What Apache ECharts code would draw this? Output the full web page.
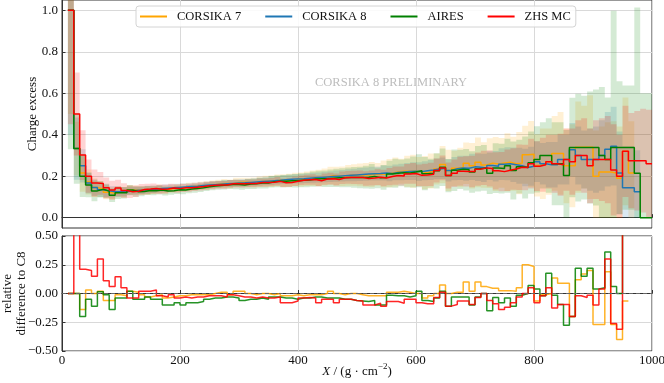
<!DOCTYPE html>
<html>
<head>
<meta charset="utf-8">
<script src="https://cdn.jsdelivr.net/npm/echarts@6/dist/echarts.min.js"></script>
<style>
  html, body { margin: 0; padding: 0; background: #fff; }
  #chart { width: 664px; height: 383px; }
</style>
</head>
<body>
<div id="chart"></div>
<script>
// bins of 10 g/cm^2, left edges 10 ... 990
const binStart = 10
const binWidth = 10

const c7 = [
  1.0, 0.333, 0.215, 0.172, 0.145, 0.138, 0.122, 0.118, 0.124, 0.123,
  0.133, 0.133, 0.132, 0.131, 0.134, 0.139, 0.136, 0.14, 0.143, 0.145,
  0.149, 0.151, 0.154, 0.155, 0.159, 0.163, 0.165, 0.163, 0.17, 0.171,
  0.17, 0.17, 0.174, 0.176, 0.176, 0.18, 0.179, 0.181, 0.185, 0.184,
  0.188, 0.19, 0.192, 0.196, 0.202, 0.2, 0.2, 0.204, 0.206, 0.206,
  0.206, 0.208, 0.209, 0.211, 0.215, 0.22, 0.224, 0.224, 0.224, 0.222,
  0.217, 0.225, 0.235, 0.256, 0.228, 0.238, 0.242, 0.262, 0.25, 0.267,
  0.254, 0.263, 0.259, 0.264, 0.267, 0.26, 0.263, 0.303, 0.306, 0.252,
  0.26, 0.27, 0.31, 0.31, 0.25, 0.25, 0.34, 0.34, 0.34, 0.2,
  0.22, 0.22, 0.215, 0.19, 0.32, 0.215, null, null, null
]
const c8 = [
  1.0, 0.333, 0.25, 0.167, 0.145, 0.135, 0.13, 0.125, 0.125, 0.125,
  0.13, 0.132, 0.133, 0.135, 0.137, 0.14, 0.142, 0.144, 0.146, 0.148,
  0.15, 0.152, 0.155, 0.157, 0.159, 0.161, 0.163, 0.165, 0.167, 0.168,
  0.17, 0.172, 0.174, 0.176, 0.178, 0.18, 0.183, 0.185, 0.187, 0.188,
  0.19, 0.192, 0.194, 0.196, 0.198, 0.2, 0.202, 0.204, 0.206, 0.208,
  0.21, 0.212, 0.213, 0.215, 0.213, 0.218, 0.22, 0.222, 0.224, 0.222,
  0.226, 0.23, 0.235, 0.238, 0.228, 0.236, 0.24, 0.238, 0.245, 0.243,
  0.24, 0.252, 0.248, 0.258, 0.26, 0.255, 0.25, 0.242, 0.248, 0.27,
  0.26, 0.255, 0.255, 0.28, 0.28, 0.327, 0.3, 0.28, 0.28, 0.28,
  0.3, 0.33, 0.345, 0.215, 0.144, 0.144, 0.125, null, null
]
const aires = [
  1.0, 0.333, 0.2, 0.158, 0.129, 0.137, 0.128, 0.108, 0.12, 0.12,
  0.133, 0.125, 0.126, 0.131, 0.13, 0.133, 0.128, 0.13, 0.134, 0.133,
  0.138, 0.14, 0.144, 0.149, 0.153, 0.155, 0.158, 0.16, 0.16, 0.158,
  0.162, 0.163, 0.167, 0.167, 0.173, 0.175, 0.176, 0.178, 0.178, 0.18,
  0.182, 0.186, 0.188, 0.188, 0.19, 0.192, 0.192, 0.194, 0.194, 0.194,
  0.195, 0.199, 0.192, 0.194, 0.21, 0.214, 0.216, 0.215, 0.22, 0.226,
  0.212, 0.214, 0.226, 0.243, 0.203, 0.229, 0.233, 0.231, 0.22, 0.236,
  0.24, 0.214, 0.239, 0.237, 0.25, 0.227, 0.246, 0.242, 0.265, 0.281,
  0.3, 0.3, 0.26, 0.26, 0.203, 0.338, 0.338, 0.338, 0.338, 0.338,
  0.3, 0.28, 0.338, 0.338, 0.338, 0.338, 0.214, 0.0, 0.0
]
const zhs = [
  1.0, 0.5, 0.302, 0.2, 0.167, 0.165, 0.144, 0.133, 0.143, 0.131,
  0.125, 0.127, 0.136, 0.138, 0.141, 0.137, 0.138, 0.143, 0.14, 0.144,
  0.144, 0.147, 0.15, 0.154, 0.156, 0.158, 0.158, 0.163, 0.164, 0.163,
  0.165, 0.165, 0.169, 0.169, 0.171, 0.175, 0.168, 0.17, 0.175, 0.18,
  0.183, 0.184, 0.178, 0.186, 0.188, 0.184, 0.192, 0.194, 0.194, 0.194,
  0.189, 0.191, 0.195, 0.191, 0.198, 0.203, 0.201, 0.211, 0.213, 0.204,
  0.206, 0.209, 0.227, 0.24, 0.203, 0.214, 0.224, 0.223, 0.222, 0.234,
  0.24, 0.237, 0.226, 0.222, 0.229, 0.235, 0.243, 0.242, 0.26, 0.248,
  0.255, 0.27, 0.26, 0.255, 0.28, 0.27, 0.3, 0.3, 0.25, 0.28,
  0.28, 0.28, 0.23, 0.2, 0.32, 0.275, 0.275, 0.275, 0.26
]

// statistical uncertainty (half width of the shaded bands)
const errC7 = [
  0.5, 0.13, 0.09, 0.06, 0.045, 0.038, 0.033, 0.03, 0.027, 0.025,
  0.023, 0.022, 0.021, 0.02, 0.02, 0.02, 0.019, 0.019, 0.019, 0.019,
  0.019, 0.019, 0.019, 0.02, 0.02, 0.02, 0.021, 0.021, 0.022, 0.022,
  0.023, 0.024, 0.025, 0.026, 0.027, 0.028, 0.03, 0.031, 0.032, 0.034,
  0.035, 0.037, 0.039, 0.041, 0.043, 0.045, 0.047, 0.05, 0.052, 0.055,
  0.057, 0.06, 0.055, 0.065, 0.068, 0.07, 0.06, 0.075, 0.08, 0.07,
  0.08, 0.085, 0.075, 0.09, 0.1, 0.085, 0.095, 0.1, 0.11, 0.12,
  0.11, 0.12, 0.13, 0.12, 0.14, 0.13, 0.15, 0.14, 0.16, 0.15,
  0.17, 0.16, 0.18, 0.2, 0.18, 0.2, 0.22, 0.2, 0.25, 0.22,
  0.22, 0.24, 0.25, 0.25, 0.26, 0.25, 0, 0, 0
]
const errC8 = [
  0.6, 0.15, 0.08, 0.05, 0.04, 0.035, 0.03, 0.028, 0.025, 0.022,
  0.02, 0.02, 0.019, 0.019, 0.018, 0.018, 0.018, 0.017, 0.017, 0.017,
  0.016, 0.016, 0.016, 0.016, 0.016, 0.017, 0.017, 0.017, 0.017, 0.018,
  0.018, 0.018, 0.019, 0.019, 0.02, 0.02, 0.021, 0.021, 0.022, 0.022,
  0.023, 0.024, 0.024, 0.025, 0.026, 0.027, 0.028, 0.029, 0.03, 0.031,
  0.032, 0.033, 0.034, 0.036, 0.037, 0.038, 0.04, 0.041, 0.043, 0.045,
  0.046, 0.048, 0.05, 0.052, 0.054, 0.056, 0.058, 0.06, 0.063, 0.066,
  0.068, 0.071, 0.074, 0.077, 0.08, 0.083, 0.087, 0.09, 0.094, 0.098,
  0.1, 0.11, 0.11, 0.12, 0.12, 0.13, 0.14, 0.14, 0.15, 0.16,
  0.17, 0.18, 0.19, 0.2, 0.2, 0.2, 0.2, 0, 0
]
const errAires = [
  0.67, 0.17, 0.1, 0.06, 0.05, 0.04, 0.035, 0.032, 0.03, 0.028,
  0.025, 0.024, 0.023, 0.022, 0.022, 0.021, 0.021, 0.02, 0.02, 0.02,
  0.02, 0.02, 0.02, 0.021, 0.021, 0.021, 0.022, 0.022, 0.023, 0.023,
  0.024, 0.025, 0.026, 0.027, 0.028, 0.029, 0.03, 0.031, 0.033, 0.034,
  0.035, 0.037, 0.038, 0.04, 0.042, 0.044, 0.046, 0.048, 0.05, 0.052,
  0.055, 0.06, 0.05, 0.06, 0.065, 0.07, 0.065, 0.07, 0.075, 0.08,
  0.08, 0.07, 0.085, 0.09, 0.08, 0.1, 0.095, 0.1, 0.1, 0.11,
  0.11, 0.1, 0.12, 0.12, 0.13, 0.14, 0.13, 0.15, 0.15, 0.16,
  0.16, 0.18, 0.2, 0.2, 0.22, 0.24, 0.26, 0.25, 0.27, 0.28,
  0.33, 0.3, 0.66, 0.32, 0.3, 0.3, 0.8, 0.6, 0.6
]
const errZhs = [
  0.55, 0.2, 0.12, 0.08, 0.065, 0.055, 0.05, 0.045, 0.04, 0.035,
  0.03, 0.028, 0.026, 0.025, 0.024, 0.023, 0.022, 0.021, 0.02, 0.02,
  0.019, 0.019, 0.019, 0.019, 0.019, 0.019, 0.019, 0.019, 0.019, 0.019,
  0.019, 0.019, 0.02, 0.02, 0.02, 0.021, 0.021, 0.022, 0.022, 0.023,
  0.024, 0.025, 0.026, 0.027, 0.028, 0.029, 0.03, 0.031, 0.032, 0.033,
  0.035, 0.036, 0.038, 0.04, 0.042, 0.044, 0.046, 0.048, 0.05, 0.052,
  0.054, 0.056, 0.058, 0.06, 0.063, 0.066, 0.07, 0.073, 0.076, 0.08,
  0.083, 0.087, 0.09, 0.095, 0.1, 0.1, 0.11, 0.11, 0.12, 0.12,
  0.13, 0.13, 0.14, 0.15, 0.15, 0.16, 0.17, 0.18, 0.18, 0.19,
  0.2, 0.21, 0.22, 0.2, 0.22, 0.23, 0.24, 0.25, 0.26
]

// relative difference to CORSIKA 8, bins 10 ... 950
const relC7 = [
  0, 0, -0.14, 0.03, 0.0, 0.02, -0.06, -0.06, -0.01, -0.02,
  0.02, 0.01, -0.01, -0.03, -0.02, -0.01, -0.04, -0.03, -0.02, -0.02,
  -0.01, -0.01, -0.01, -0.01, 0.0, 0.01, 0.01, -0.01, 0.02, 0.02,
  0.0, -0.01, 0.0, 0.0, -0.01, 0.0, -0.02, -0.02, -0.01, -0.02,
  -0.01, -0.01, -0.01, 0.0, 0.02, 0.0, -0.01, 0.0, 0.0, -0.01,
  -0.02, -0.02, -0.02, -0.02, 0.01, 0.01, 0.02, 0.01, 0.0, 0.0,
  -0.04, -0.02, 0.0, 0.075, 0.0, 0.01, 0.01, 0.1, 0.02, 0.1,
  0.06, 0.045, 0.045, 0.025, 0.025, 0.02, 0.05, 0.25, 0.235, -0.065,
  -0.01, 0.0, 0.135, 0.09, 0.09, -0.2, 0.12, 0.17, 0.2, -0.27,
  -0.27, 0.19, -0.27, -0.4, -0.065
]
const relAires = [
  0, 0, -0.2, -0.05, -0.11, 0.015, -0.01, -0.14, -0.04, -0.04,
  0.02, -0.05, -0.05, -0.03, -0.05, -0.05, -0.1, -0.1, -0.08, -0.1,
  -0.08, -0.08, -0.07, -0.05, -0.04, -0.04, -0.03, -0.03, -0.04, -0.06,
  -0.05, -0.05, -0.04, -0.05, -0.03, -0.03, -0.04, -0.04, -0.05, -0.04,
  -0.04, -0.03, -0.03, -0.04, -0.04, -0.04, -0.05, -0.05, -0.06, -0.065,
  -0.07, -0.06, -0.1, -0.1, -0.015, -0.02, -0.02, -0.03, -0.02, 0.02,
  -0.06, -0.07, -0.04, 0.02, -0.11, -0.03, -0.03, -0.03, -0.1, -0.03,
  0.0, -0.15, -0.035, -0.08, -0.04, -0.11, -0.015, 0.0, 0.07, 0.04,
  -0.02, 0.176, -0.015, -0.095, -0.275, -0.2, 0.22, 0.15, 0.22, 0.04,
  0.05, 0.36, 0.06, 0.0, 0.6
]
const relZhs = [
  0, 0.6, 0.21, 0.2, 0.15, 0.3, 0.11, 0.06, 0.145, 0.05,
  -0.04, -0.04, 0.02, 0.02, 0.03, -0.02, -0.03, -0.01, -0.04, -0.03,
  -0.04, -0.03, -0.03, -0.02, -0.02, -0.02, -0.03, -0.01, -0.02, -0.03,
  -0.03, -0.04, -0.03, -0.04, -0.04, -0.03, -0.08, -0.08, -0.065, -0.04,
  -0.035, -0.04, -0.08, -0.05, -0.05, -0.08, -0.05, -0.05, -0.06, -0.065,
  -0.1, -0.1, -0.085, -0.11, -0.07, -0.07, -0.085, -0.05, -0.05, -0.08,
  -0.09, -0.09, -0.035, 0.01, -0.11, -0.095, -0.065, -0.065, -0.095, -0.035,
  0.0, -0.06, -0.09, -0.14, -0.12, -0.08, -0.03, 0.0, 0.05, -0.08,
  -0.02, 0.05, -0.125, -0.095, -0.095, -0.2, -0.02, -0.035, -0.015, -0.1,
  0.04, 0.3, -0.26, -0.31, 0.6
]

const topTicks = [0, 0.2, 0.4, 0.6, 0.8, 1.0]

const colors = {
  c7: '#ffa500',
  c8: '#1f77b4',
  aires: '#008000',
  zhs: '#ff0000'
}
const font = 'Liberation Serif'

// histogram outline: value held over the bin, closed at the right edge
function stairs(vals) {
  const pts = []
  let last = -1
  vals.forEach((v, i) => {
    if (v === null) return
    pts.push([binStart + i * binWidth, v])
    last = i
  })
  pts.push([binStart + (last + 1) * binWidth, vals[last]])
  return pts
}

function lineSeries(name, vals, color, grid, opacity) {
  return {
    name: name,
    type: 'line',
    xAxisIndex: grid,
    yAxisIndex: grid,
    step: 'end',
    showSymbol: false,
    symbol: 'none',
    data: stairs(vals),
    lineStyle: { color: color, width: 1.5, opacity: opacity },
    itemStyle: { color: color },
    z: 3
  }
}

// shaded uncertainty band as one stepped polygon
function bandSeries(name, vals, errs, color) {
  return {
    name: name,
    type: 'custom',
    xAxisIndex: 0,
    yAxisIndex: 0,
    silent: true,
    clip: true,
    z: 1,
    data: [[0, 0]],
    renderItem(params, api) {
      const top = []
      const bot = []
      vals.forEach((v, i) => {
        if (v === null) return
        const x0 = binStart + i * binWidth
        const x1 = x0 + binWidth
        const hi = v + errs[i]
        const lo = Math.max(0, v - errs[i])
        top.push(api.coord([x0, hi]), api.coord([x1, hi]))
        bot.push(api.coord([x0, lo]), api.coord([x1, lo]))
      })
      return {
        type: 'polygon',
        shape: { points: top.concat(bot.reverse()) },
        style: { fill: color, opacity: 0.17 }
      }
    }
  }
}

const minus = s => s.replace('-', '\u2212')
const labelStyle = { fontFamily: font, fontSize: 13, color: '#111' }
const splitStyle = { show: true, lineStyle: { color: '#d9d9d9', width: 1 } }

const chart = echarts.init(document.getElementById('chart'))
chart.setOption({
  animation: false,
  backgroundColor: '#fff',
  grid: [
    { left: 62, right: 12, top: 0, height: 228, outerBoundsMode: 'none', show: true, borderColor: '#333', borderWidth: 1 },
    { left: 62, right: 12, top: 236, height: 115, outerBoundsMode: 'none', show: true, borderColor: '#333', borderWidth: 1 }
  ],
  legend: {
    data: ['CORSIKA 7', 'CORSIKA 8', 'AIRES', 'ZHS MC'],
    left: 136,
    top: 6,
    padding: [4, 5, 4, 4],
    itemGap: 24,
    itemWidth: 27,
    itemHeight: 2,
    icon: 'rect',
    borderColor: '#d4d4d4',
    borderWidth: 1,
    borderRadius: 3,
    backgroundColor: 'rgba(255,255,255,0.85)',
    textStyle: { fontFamily: font, fontSize: 12.5, color: '#111', padding: [0, 0, 0, 5] }
  },
  graphic: [{
    type: 'text',
    left: 315,
    top: 76,
    silent: true,
    style: { text: 'CORSIKA 8 PRELIMINARY', fill: '#bdbdbd', font: '12.5px "Liberation Serif"' }
  }],
  xAxis: [{
    gridIndex: 0,
    type: 'value',
    min: 0,
    max: 1000,
    interval: 200,
    axisLine: { show: true, lineStyle: { color: '#333' } },
    axisTick: { show: true, inside: true, length: 3.5, lineStyle: { color: '#333' } },
    axisLabel: { show: false },
    splitLine: splitStyle
  }, {
    gridIndex: 1,
    type: 'value',
    min: 0,
    max: 1000,
    interval: 200,
    axisLine: { show: true, lineStyle: { color: '#333' } },
    axisTick: { show: true, inside: true, length: 3.5, lineStyle: { color: '#333' } },
    axisLabel: Object.assign({ margin: 3, formatter: v => String(v) }, labelStyle),
    splitLine: splitStyle,
    name: '{i|X}{n| / (g \u00b7 cm}{s|\u22122}{n|)}',
    nameLocation: 'middle',
    nameGap: 11,
    nameMoveOverlap: false,
    nameTextStyle: {
      rich: {
        i: { fontFamily: font, fontSize: 13, fontStyle: 'italic', color: '#111', lineHeight: 20 },
        n: { fontFamily: font, fontSize: 13, color: '#111', lineHeight: 20 },
        s: { fontFamily: font, fontSize: 9, color: '#111', verticalAlign: 'top' }
      }
    }
  }],
  yAxis: [{
    gridIndex: 0,
    type: 'value',
    min: -0.05,
    max: 1.05,
    axisLine: { show: true, lineStyle: { color: '#333' } },
    axisTick: { show: true, inside: true, length: 3.5, customValues: topTicks, lineStyle: { color: '#333' } },
    axisLabel: Object.assign({ margin: 4, customValues: topTicks, formatter: v => v.toFixed(1) }, labelStyle),
    splitLine: splitStyle,
    name: 'Charge excess',
    nameLocation: 'middle',
    nameGap: 23,
    nameMoveOverlap: false,
    nameTextStyle: { fontFamily: font, fontSize: 13, color: '#111' }
  }, {
    gridIndex: 1,
    type: 'value',
    min: -0.5,
    max: 0.5,
    interval: 0.25,
    axisLine: { show: true, lineStyle: { color: '#333' } },
    axisTick: { show: true, inside: true, length: 3.5, lineStyle: { color: '#333' } },
    axisLabel: Object.assign({ margin: 4, formatter: v => minus(v.toFixed(2)) }, labelStyle),
    splitLine: splitStyle,
    name: 'relative\ndifference to C8',
    nameLocation: 'middle',
    nameGap: 33,
    nameMoveOverlap: false,
    nameTextStyle: { fontFamily: font, fontSize: 13, color: '#111', lineHeight: 14 }
  }],
  series: [
    bandSeries('band C7', c7, errC7, colors.c7),
    bandSeries('band C8', c8, errC8, colors.c8),
    bandSeries('band AIRES', aires, errAires, colors.aires),
    bandSeries('band ZHS', zhs, errZhs, colors.zhs),
    lineSeries('CORSIKA 7', c7, colors.c7, 0, 1),
    lineSeries('CORSIKA 8', c8, colors.c8, 0, 1),
    lineSeries('AIRES', aires, colors.aires, 0, 1),
    lineSeries('ZHS MC', zhs, colors.zhs, 0, 1),
    Object.assign(lineSeries('rel CORSIKA 7', relC7, colors.c7, 1, 0.85), {
      markLine: {
        silent: true,
        symbol: ['none', 'none'],
        label: { show: false },
        lineStyle: { type: [4, 3], color: '#666', width: 1 },
        data: [{ yAxis: 0 }]
      }
    }),
    lineSeries('rel AIRES', relAires, colors.aires, 1, 0.85),
    lineSeries('rel ZHS MC', relZhs, colors.zhs, 1, 0.85)
  ]
})
</script>
</body>
</html>
